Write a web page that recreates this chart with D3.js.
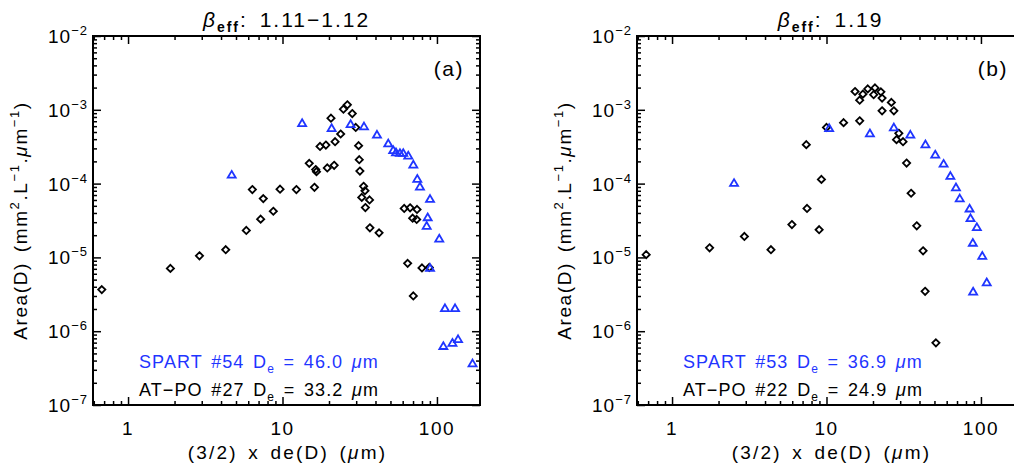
<!DOCTYPE html>
<html>
<head>
<meta charset="utf-8">
<script src="https://cdn.jsdelivr.net/npm/d3@7"></script>
<style>
  body { margin: 0; background: #fff; }
  text { font-family: "Liberation Sans", Arial, sans-serif; }
</style>
</head>
<body>
<script>
// panel (a) : AT-PO (black diamonds) and SPART (blue triangles)
const aAtpo = [
  [0.676, 3.66e-6], [1.88, 7.1e-6], [2.90, 1.05e-5], [4.29, 1.27e-5], [5.83, 2.32e-5],
  [7.22, 3.30e-5], [6.38, 8.3e-5], [7.51, 6.26e-5], [8.72, 4.22e-5], [9.64, 8.4e-5],
  [12.3, 8.3e-5], [16.1, 8.9e-5], [14.9, 1.88e-4], [16.4, 1.55e-4], [16.6, 1.45e-4],
  [19.5, 1.63e-4], [21.6, 1.77e-4], [17.5, 3.19e-4], [19.1, 3.33e-4], [21.9, 3.70e-4],
  [23.8, 4.7e-4], [20.6, 7.7e-4], [24.8, 1.02e-3], [26.3, 1.17e-3], [28.3, 8.9e-4],
  [29.8, 5.77e-4], [31.1, 3.27e-4], [31.4, 2.11e-4], [31.7, 1.48e-4], [33.5, 9.2e-5],
  [34.2, 8.0e-5], [32.6, 6.5e-5], [36.6, 6.0e-5], [34.4, 4.74e-5], [36.8, 2.52e-5],
  [42.2, 2.15e-5], [61.4, 4.6e-5], [67.0, 4.7e-5], [74.3, 4.46e-5], [69.6, 3.40e-5],
  [73.9, 3.27e-5], [64.6, 8.3e-6], [80.0, 7.2e-6], [89.2, 7.3e-6], [70.3, 3.0e-6]
];
const aSpart = [
  [4.69, 1.32e-4], [13.4, 6.6e-4], [20.8, 5.66e-4], [27.6, 6.4e-4], [33.7, 5.96e-4],
  [40.9, 4.6e-4], [48.4, 3.5e-4], [52.1, 2.85e-4], [54.3, 2.65e-4], [57.6, 2.6e-4],
  [60.5, 2.6e-4], [65.2, 2.4e-4], [70.3, 1.81e-4], [74.6, 1.16e-4], [77.6, 9.1e-5],
  [90.2, 6.2e-5], [87.1, 3.5e-5], [85.8, 2.68e-5], [103.5, 1.8e-5], [90.2, 7.2e-6],
  [112.7, 2.05e-6], [131, 2.05e-6], [110, 6.3e-7], [126, 6.95e-7], [137, 7.8e-7],
  [170, 3.66e-7]
];

// panel (b)
const bAtpo = [
  [0.68, 1.09e-5], [1.75, 1.35e-5], [2.94, 1.92e-5], [4.37, 1.27e-5], [5.97, 2.79e-5],
  [7.48, 4.6e-5], [7.40, 3.37e-4], [9.27, 1.14e-4], [8.96, 2.37e-5], [10.0, 5.77e-4],
  [12.9, 6.7e-4], [16.4, 7.1e-4], [16.4, 1.35e-3], [15.3, 1.77e-3], [17.2, 1.63e-3],
  [18.5, 1.92e-3], [20.6, 1.98e-3], [20.2, 1.6e-3], [22.5, 1.75e-3], [22.9, 1.44e-3],
  [26.3, 1.26e-3], [22.9, 9.7e-4], [27.3, 9.7e-4], [29.4, 4.8e-4], [28.4, 3.94e-4],
  [31.3, 3.7e-4], [33.0, 1.9e-4], [35.3, 7.4e-5], [38.4, 2.68e-5], [42.2, 1.23e-5],
  [43.5, 3.47e-6], [51.1, 6.95e-7]
];
const bSpart = [
  [2.52, 1.02e-4], [10.4, 5.66e-4], [19.1, 4.8e-4], [27.3, 5.77e-4], [34.9, 4.6e-4],
  [43.7, 3.4e-4], [50.6, 2.47e-4], [57.3, 1.86e-4], [63.4, 1.27e-4], [68.9, 8.9e-5],
  [72.9, 6.3e-5], [84.4, 4.6e-5], [85.6, 3.4e-5], [94.1, 2.57e-5], [88.6, 1.58e-5],
  [102, 1.05e-5], [109, 4.6e-6], [89.0, 3.44e-6]
];

const xDomain = [0.593, 190];
const yDomain = [1e-7, 1e-2];
const xMajor = [1, 10, 100];
const yMajor = [-7, -6, -5, -4, -3, -2];

const panels = [
  { left: 93, tag: "(a)", beta: "1.11\u22121.12", atpo: aAtpo, spart: aSpart,
    spartText: ["SPART #54 D", "e", " = 46.0 ", "\u03bc", "m"],
    atpoText: ["AT\u2212PO #27 D", "e", " = 33.2 ", "\u03bc", "m"] },
  { left: 637, tag: "(b)", beta: "1.19", atpo: bAtpo, spart: bSpart,
    spartText: ["SPART #53 D", "e", " = 36.9 ", "\u03bc", "m"],
    atpoText: ["AT\u2212PO #22 D", "e", " = 24.9 ", "\u03bc", "m"] }
];

const blue = "#1f35ff";
const W = 387, H = 369, top0 = 36;

const svg = d3.select("body").append("svg")
  .attr("width", 1014).attr("height", 470);

function minorTicks(lo, hi) {
  const out = [];
  for (let e = Math.floor(Math.log10(lo)); e <= Math.ceil(Math.log10(hi)); e++) {
    for (let k = 2; k <= 9; k++) {
      const v = k * Math.pow(10, e);
      if (v >= lo && v <= hi) out.push(v);
    }
  }
  return out;
}

function legendLine(g, x, y, parts, color) {
  const t = g.append("text").attr("x", x).attr("y", y)
    .attr("font-size", 18).attr("fill", color)
    .attr("letter-spacing", 1.1).attr("word-spacing", 2.5);
  t.append("tspan").text(parts[0]);
  t.append("tspan").attr("font-size", 12).attr("dy", 5).text(parts[1]);
  t.append("tspan").attr("dy", -5).text(parts[2]);
  t.append("tspan").attr("font-style", "italic").text(parts[3]);
  t.append("tspan").text(parts[4]);
}

panels.forEach(function(p) {
  const g = svg.append("g").attr("transform", "translate(" + p.left + "," + top0 + ")");
  const x = d3.scaleLog().domain(xDomain).range([0, W]);
  const y = d3.scaleLog().domain(yDomain).range([H, 0]);

  const xMin = minorTicks(xDomain[0], xDomain[1]);
  const yMin = minorTicks(yDomain[0], yDomain[1]);
  const yMaj = yMajor.map(e => Math.pow(10, e));

  // ticks on all four sides, pointing inward
  g.append("g").attr("transform", "translate(0," + H + ")")
    .call(d3.axisBottom(x).tickValues(xMin).tickSize(-4).tickFormat(""));
  g.append("g").attr("transform", "translate(0," + H + ")")
    .call(d3.axisBottom(x).tickValues(xMajor).tickSize(-8).tickFormat(""));
  g.append("g")
    .call(d3.axisTop(x).tickValues(xMin).tickSize(-4).tickFormat(""));
  g.append("g")
    .call(d3.axisTop(x).tickValues(xMajor).tickSize(-8).tickFormat(""));
  g.append("g")
    .call(d3.axisLeft(y).tickValues(yMin).tickSize(-4).tickFormat(""));
  g.append("g")
    .call(d3.axisLeft(y).tickValues(yMaj).tickSize(-8).tickFormat(""));
  g.append("g").attr("transform", "translate(" + W + ",0)")
    .call(d3.axisRight(y).tickValues(yMin).tickSize(-4).tickFormat(""));
  g.append("g").attr("transform", "translate(" + W + ",0)")
    .call(d3.axisRight(y).tickValues(yMaj).tickSize(-8).tickFormat(""));
  g.selectAll(".domain").remove();
  g.selectAll(".tick line").attr("stroke", "#000").attr("stroke-width", 1.5);

  g.append("rect").attr("width", W).attr("height", H)
    .attr("fill", "none").attr("stroke", "#000").attr("stroke-width", 2);

  // tick labels
  g.selectAll(".xl").data(xMajor).enter().append("text")
    .attr("x", d => x(d)).attr("y", H + 30)
    .attr("text-anchor", "middle").attr("font-size", 19)
    .attr("letter-spacing", 1.5).text(d => d);

  const yl = g.selectAll(".yl").data(yMajor).enter().append("text")
    .attr("x", -5).attr("y", d => y(Math.pow(10, d)) + 7)
    .attr("text-anchor", "end").attr("font-size", 19).attr("letter-spacing", 1);
  yl.append("tspan").text("10");
  yl.append("tspan").attr("font-size", 13).attr("dy", -8).text(d => "\u2212" + (-d));

  // axis titles
  g.append("text").attr("x", W / 2 + 1).attr("y", H + 54)
    .attr("text-anchor", "middle").attr("font-size", 19)
    .attr("letter-spacing", 2.2).attr("word-spacing", 3)
    .html('(3/2) x de(D) (<tspan font-style="italic">\u03bc</tspan>m)');

  const yt = g.append("text")
    .attr("transform", "translate(-66," + (H / 2) + ") rotate(-90)")
    .attr("text-anchor", "middle").attr("font-size", 19)
    .attr("letter-spacing", 1.6).attr("word-spacing", 3);
  yt.append("tspan").text("Area(D) (mm");
  yt.append("tspan").attr("font-size", 13).attr("dy", -8).text("2");
  yt.append("tspan").attr("dy", 8).text(".L");
  yt.append("tspan").attr("font-size", 13).attr("dy", -8).text("\u22121");
  yt.append("tspan").attr("dy", 8).text(".");
  yt.append("tspan").attr("font-style", "italic").text("\u03bc");
  yt.append("tspan").text("m");
  yt.append("tspan").attr("font-size", 13).attr("dy", -8).text("\u22121");
  yt.append("tspan").attr("dy", 8).text(")");

  // panel title
  const tt = g.append("text").attr("x", W / 2).attr("y", -9)
    .attr("text-anchor", "middle").attr("font-size", 21)
    .attr("letter-spacing", 2).attr("word-spacing", 4);
  tt.append("tspan").attr("font-style", "italic").text("\u03b2");
  tt.append("tspan").attr("font-size", 14).attr("font-weight", "bold").attr("dy", 5).text("eff");
  tt.append("tspan").attr("dy", -5).text(": " + p.beta);

  g.append("text").attr("x", W - 16).attr("y", 40)
    .attr("text-anchor", "end").attr("font-size", 21)
    .attr("letter-spacing", 1.5).text(p.tag);

  // markers
  g.selectAll(".atpo").data(p.atpo).enter().append("path")
    .attr("transform", d => "translate(" + x(d[0]) + "," + y(d[1]) + ")")
    .attr("d", "M0,-3.6L3.6,0L0,3.6L-3.6,0Z")
    .attr("fill", "none").attr("stroke", "#000").attr("stroke-width", 1.8);

  g.selectAll(".spart").data(p.spart).enter().append("path")
    .attr("transform", d => "translate(" + x(d[0]) + "," + y(d[1]) + ")")
    .attr("d", "M0,-3.8L4,3L-4,3Z")
    .attr("fill", "none").attr("stroke", blue).attr("stroke-width", 1.8);

  legendLine(g, 46, 332, p.spartText, blue);
  legendLine(g, 46, 360, p.atpoText, "#000");
});
</script>
</body>
</html>
